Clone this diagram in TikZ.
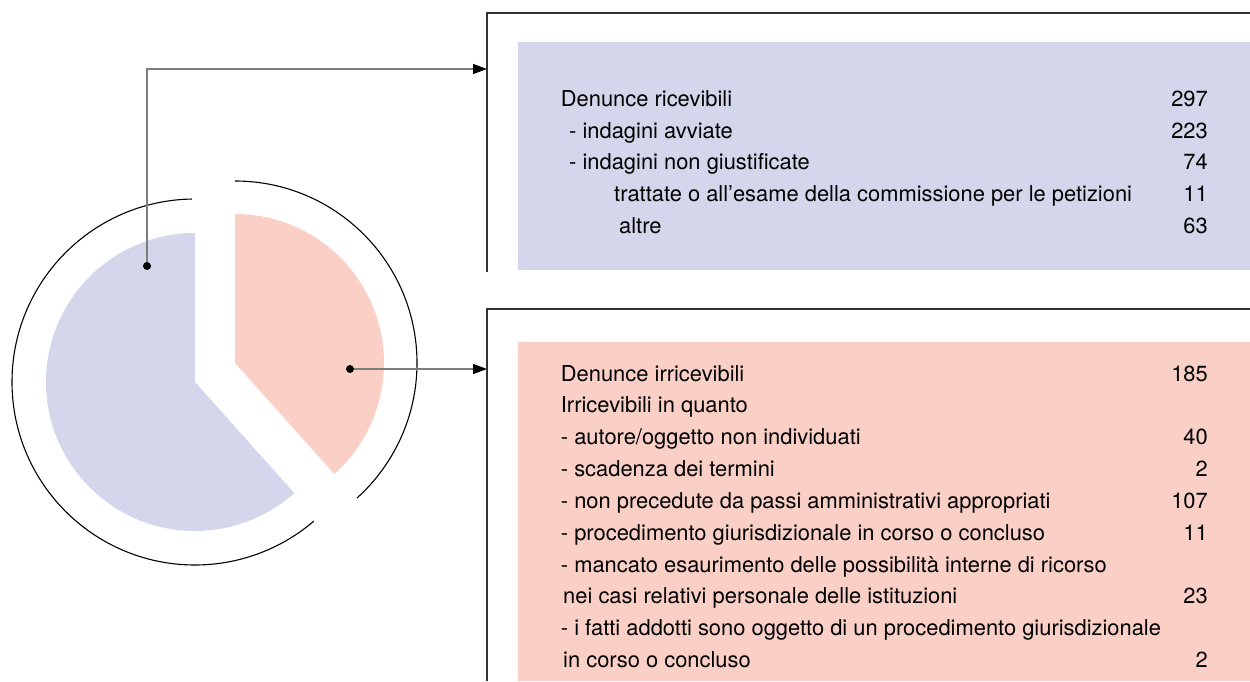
\documentclass[tikz,border=0pt]{standalone}
\usepackage{fontspec}
\setmainfont{TeX Gyre Heros}
\usetikzlibrary{arrows.meta}

\definecolor{recBlue}{RGB}{212,215,236}
\definecolor{irrRed}{RGB}{250,208,198}
\definecolor{frameGray}{RGB}{50,50,50}
\definecolor{linkGray}{RGB}{125,125,125}

\begin{document}
\begin{tikzpicture}
[x=1pt,y=1pt,
  rowText/.style={anchor=base west,inner sep=0pt,font=\fontsize{21.9}{24}\selectfont},
  rowNum/.style={anchor=base east,inner sep=0pt,font=\fontsize{21.9}{24}\selectfont},
  dotDecorate/.style={shape=circle,fill=black,inner sep=0pt,minimum size=8pt},
  linkStyle/.style={draw=linkGray,line width=1.2pt,-{Triangle[length=14pt,width=10pt,black]}},
  frameStyle/.style={draw=frameGray,line width=1.5pt},
  ringStyle/.style={draw=black,line width=1.1pt}]
\useasboundingbox (0,0) rectangle (1250,681);
%% coloured panels
\fill[recBlue] (518,411) rectangle (1250,639);
\fill[irrRed] (518,0) rectangle (1250,339);
%% open frames
\coordinate (topIn) at (487,612);
\coordinate (botIn) at (487,312);
\draw[frameStyle] (487,409) -- (487,668) -- (1250,668);
\draw[frameStyle] (487,0) -- (487,372) -- (1250,372);
%% pie sectors
\coordinate (recCentre) at (195,299);
\coordinate (irrCentre) at (235,318);
\fill[recBlue] (recCentre) -- ++(90:149) arc[start angle=90,end angle=311.8,radius=149] -- cycle;
\fill[irrRed] (irrCentre) -- ++(90:149) arc[start angle=90,end angle=-48.2,radius=149] -- cycle;
\draw[ringStyle] (recCentre) ++(91:183) arc[start angle=91,end angle=310.5,radius=183];
\draw[ringStyle] (irrCentre) ++(90:182) arc[start angle=90,end angle=-47.9,radius=182];
%% dots and links
\node (recDot) at (147,415) [dotDecorate] {};
\node (irrDot) at (350,312) [dotDecorate] {};
\draw[linkStyle] (recDot) |- (topIn);
\draw[linkStyle] (irrDot) -- (botIn);
%% ricevibili
\foreach \i/\xx/\txt/\num in {
  1/560.7/Denunce ricevibili/297,
  2/569/- indagini avviate/223,
  3/569/- indagini non giustificate/74,
  4/614/trattate o all’esame della commissione per le petizioni/11,
  5/619/altre/63}
{
  \node (rec\i) at (\xx,574.3-31.65*\i+31.65) [rowText] {\txt};
  \node (recN\i) at (1208,574.3-31.65*\i+31.65) [rowNum] {\num};
}
%% irricevibili
\foreach \i/\xx/\txt/\num in {
  1/560.7/Denunce irricevibili/185,
  2/560.7/Irricevibili in quanto/,
  3/560.7/{- autore/oggetto non individuati}/40,
  4/560.7/- scadenza dei termini/2,
  5/560.7/- non precedute da passi amministrativi appropriati/107,
  6/560.7/- procedimento giurisdizionale in corso o concluso/11,
  7/560.7/- mancato esaurimento delle possibilità interne di ricorso/,
  8/563/nei casi relativi personale delle istituzioni/23,
  9/560.7/- i fatti addotti sono oggetto di un procedimento giurisdizionale/,
  10/563/in corso o concluso/2}
{
  \node (irr\i) at (\xx,300-31.85*\i+31.85) [rowText] {\txt};
  \node (irrN\i) at (1208,300-31.85*\i+31.85) [rowNum] {\num};
}
\end{tikzpicture}
\end{document}
